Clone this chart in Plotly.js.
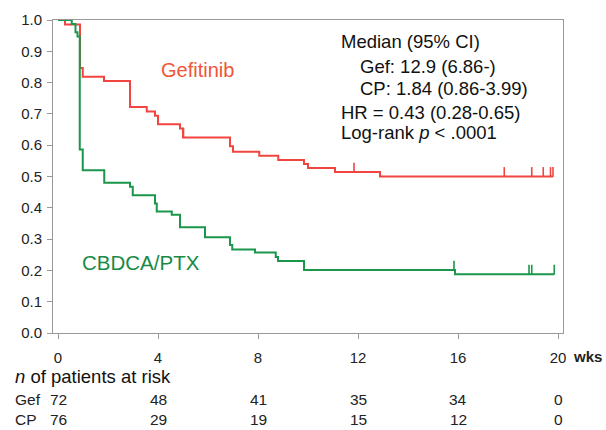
<!DOCTYPE html>
<html>
<head>
<meta charset="utf-8">
<script src="https://cdn.plot.ly/plotly-3.0.1.min.js"></script>
<style>html,body{margin:0;padding:0;background:#fff;}</style>
</head>
<body>
<div id="chart" style="width:606px;height:430px;"></div>
<script>
// ---- data ----
const weeks = [0, 4, 8, 12, 16, 20];
const riskGef = [72, 48, 41, 35, 34, 0];
const riskCP = [76, 29, 19, 15, 12, 0];

const gefTimes = [0, 0.28, 0.88, 0.99, 1.84, 2.88, 3.55, 3.88, 4.0, 4.88, 5.0, 6.88, 7.0, 8.05, 8.81, 9.84, 10.0, 11.08, 12.88];
const gefSurv  = [1.0, 0.986, 0.847, 0.819, 0.805, 0.722, 0.708, 0.694, 0.667, 0.653, 0.625, 0.597, 0.579, 0.566, 0.553, 0.54, 0.527, 0.514, 0.5];
const gefEnd = 19.8;
const gefCensor = [5.02, 11.84, 17.85, 18.95, 19.41, 19.7, 19.8];

const cpTimes = [0, 0.55, 0.7, 0.78, 0.87, 0.99, 1.85, 2.88, 2.99, 3.88, 3.95, 4.55, 4.88, 5.88, 6.88, 6.97, 7.88, 8.71, 8.8, 9.84, 15.88];
const cpSurv  = [1.0, 0.987, 0.961, 0.947, 0.586, 0.52, 0.48, 0.467, 0.44, 0.414, 0.388, 0.378, 0.338, 0.306, 0.281, 0.267, 0.257, 0.243, 0.23, 0.201, 0.188];
const cpEnd = 19.85;
const cpCensor = [15.84, 18.84, 18.95, 19.85];

// ---- helpers ----
const RED = '#f2453f', GREEN = '#1a974b';
function stepAt(times, surv, t) {
  let s = surv[0];
  for (let i = 0; i < times.length; i++) { if (times[i] <= t) s = surv[i]; }
  return s;
}
function curve(times, surv, end, color) {
  return {
    x: times.concat([end]), y: surv.concat([surv[surv.length - 1]]),
    mode: 'lines', line: {shape: 'hv', color: color, width: 2},
    cliponaxis: false, hoverinfo: 'skip', showlegend: false
  };
}
function censor(times, surv, cens, color) {
  return {
    x: cens, y: cens.map(t => stepAt(times, surv, t)),
    mode: 'markers', marker: {size: 1, color: color},
    error_y: {type: 'data', symmetric: false, array: cens.map(() => 0.03), arrayminus: cens.map(() => 0),
              width: 0, thickness: 1.6, color: color},
    cliponaxis: false, hoverinfo: 'skip', showlegend: false
  };
}

const data = [
  curve(gefTimes, gefSurv, gefEnd, RED),
  curve(cpTimes, cpSurv, cpEnd, GREEN),
  censor(gefTimes, gefSurv, gefCensor, RED),
  censor(cpTimes, cpSurv, cpCensor, GREEN)
];

const FONT = 'Liberation Sans, Arial, Helvetica, sans-serif';
const ann = [];
function txt(x, y, text, opts) {
  ann.push(Object.assign({x: x, y: y, xref: 'x', yref: 'y', text: text, showarrow: false,
    xanchor: 'left', yanchor: 'middle', font: {family: FONT, size: 18.5, color: '#111'}}, opts || {}));
}
// in-plot labels
txt(4.02, 0.84, 'Gefitinib', {font: {family: FONT, size: 20, color: '#f05538'}});
txt(0.86, 0.225, 'CBDCA/PTX', {font: {family: FONT, size: 20.5, color: '#178a45'}});
txt(11.24, 0.931, 'Median (95% CI)');
txt(12.01, 0.851, 'Gef: 12.9 (6.86-)');
txt(12.01, 0.782, 'CP: 1.84 (0.86-3.99)');
txt(11.24, 0.704, 'HR = 0.43 (0.28-0.65)');
txt(11.24, 0.640, 'Log-rank <i>p</i> < .0001');

// axis unit (paper coords, outside the plotting range)
ann.push({x: 1.016, y: -0.074, xref: 'paper', yref: 'paper', text: '<b>wks</b>', showarrow: false,
  xanchor: 'left', yanchor: 'middle', font: {family: 'Liberation Sans Narrow, Arial Narrow, sans-serif', size: 15, color: '#222'}});

// risk table
const LEFTX = -0.078;
ann.push({x: LEFTX, y: -0.1396, xref: 'paper', yref: 'paper', text: '<i>n</i> of patients at risk', showarrow: false,
  xanchor: 'left', yanchor: 'middle', font: {family: FONT, size: 18.5, color: '#111'}});
const rows = [{label: 'Gef', vals: riskGef, y: -0.211}, {label: 'CP', vals: riskCP, y: -0.275}];
rows.forEach(r => {
  ann.push({x: LEFTX, y: r.y, xref: 'paper', yref: 'paper', text: r.label, showarrow: false,
    xanchor: 'left', yanchor: 'middle', font: {family: FONT, size: 15.5, color: '#222'}});
  r.vals.forEach((v, i) => {
    ann.push({x: weeks[i], y: r.y, xref: 'x', yref: 'paper', text: String(v), showarrow: false,
      xanchor: 'center', yanchor: 'middle', font: {family: FONT, size: 15.5, color: '#222'}});
  });
});

const axisCommon = {
  showgrid: false, zeroline: false, showline: true, linecolor: '#999', linewidth: 1, mirror: true,
  ticks: 'outside', ticklen: 5, tickcolor: '#999', tickwidth: 1,
  tickfont: {family: FONT, size: 15, color: '#222'}
};
const layout = {
  width: 606, height: 430,
  margin: {l: 53, r: 43, t: 20, b: 97, pad: 0},
  paper_bgcolor: '#fff', plot_bgcolor: '#fff',
  showlegend: false,
  xaxis: Object.assign({}, axisCommon, {range: [-0.2, 20.2], tickvals: weeks, ticktext: weeks.map(String), ticklabelstandoff: 6}),
  yaxis: Object.assign({}, axisCommon, {range: [0, 1], dtick: 0.1, tick0: 0, tickformat: '.1f', ticklabelstandoff: 2}),
  annotations: ann
};
Plotly.newPlot('chart', data, layout, {staticPlot: true, displayModeBar: false});
</script>
</body>
</html>
